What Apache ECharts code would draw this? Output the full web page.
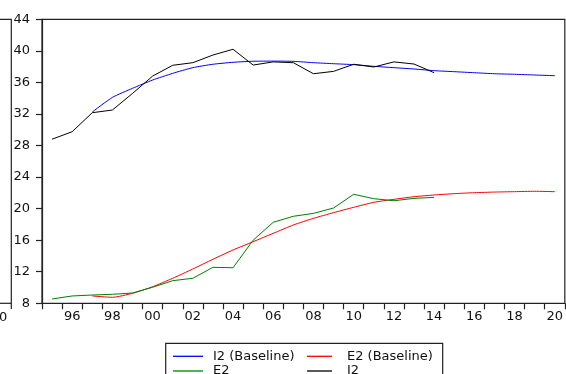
<!DOCTYPE html>
<html>
<head>
<meta charset="utf-8">
<script src="https://cdn.jsdelivr.net/npm/echarts@6/dist/echarts.min.js"></script>
<style>
html,body{margin:0;padding:0;background:#fff;}
#chart{width:566px;height:374px;}
</style>
</head>
<body>
<div id="chart"></div>
<script>
const years = ['1995','1996','1997','1998','1999','2000','2001','2002','2003','2004','2005','2006','2007','2008','2009','2010','2011','2012','2013','2014','2015','2016','2017','2018','2019','2020'];
const i2 = [28.8, 29.75, 32.16, 32.5, 34.6, 36.8, 38.17, 38.5, 39.47, 40.2, 38.2, 38.6, 38.5, 37.1, 37.4, 38.3, 37.95, 38.6, 38.33, 37.23, null, null, null, null, null, null];
const i2Base = [null, null, 32.25, 34.1, 35.25, 36.3, 37.15, 37.87, 38.3, 38.55, 38.68, 38.7, 38.67, 38.5, 38.37, 38.25, 38.04, 37.87, 37.7, 37.49, 37.36, 37.23, 37.1, 37.03, 36.94, 36.85];
const e2 = [8.55, 8.93, 9.05, 9.14, 9.3, 10.03, 10.87, 11.17, 12.56, 12.51, 16.0, 18.27, 19.03, 19.4, 20.08, 21.82, 21.26, 21.0, 21.3, 21.43, null, null, null, null, null, null];
const e2Base = [null, null, 8.93, 8.76, 9.27, 10.1, 11.17, 12.35, 13.58, 14.76, 15.81, 16.87, 17.93, 18.77, 19.49, 20.17, 20.8, 21.18, 21.51, 21.73, 21.9, 22.02, 22.1, 22.15, 22.2, 22.15];
const yTicks = {min: 8, max: 44, interval: 4};

const FONT = 'DejaVu Sans';
const AX = '#222';
const chart = echarts.init(document.getElementById('chart'), null, {renderer: 'canvas'});
function leg(name, left, top, w, pad) {
  return {
    data: [name], orient: 'horizontal', left: left, top: top,
    icon: 'rect', itemWidth: w, itemHeight: 1.3, itemGap: 0, padding: 0,
    textStyle: {fontFamily: FONT, fontSize: 13, color: '#111', lineHeight: 9, padding: [0, 0, 0, pad]}
  };
}
chart.setOption({
  animation: false,
  backgroundColor: '#fff',
  grid: {left: 42, top: 19.3, right: -1, bottom: 70.7, show: true, borderColor: AX, borderWidth: 1.2, backgroundColor: 'transparent'},
  xAxis: {
    type: 'category', data: years, boundaryGap: true,
    axisLine: {lineStyle: {color: AX, width: 1.2}},
    axisTick: {show: true, interval: 0, length: 6, inside: false, lineStyle: {color: AX, width: 1.2}},
    axisLabel: {
      interval: function (idx, val) { return (+val) % 2 === 0; },
      formatter: function (v) { return v.slice(2); },
      fontFamily: FONT, fontSize: 13, color: '#111', margin: 7
    },
    splitLine: {show: false}
  },
  yAxis: {
    type: 'value', min: yTicks.min, max: yTicks.max, interval: yTicks.interval,
    axisLine: {show: true, lineStyle: {color: AX, width: 1.2}},
    axisTick: {show: true, length: 6, lineStyle: {color: AX, width: 1.2}},
    axisLabel: {fontFamily: FONT, fontSize: 13, color: '#111', margin: 12},
    splitLine: {show: false}
  },
  legend: [
    leg('I2 (Baseline)', 173, 349.8, 30, 5),
    leg('E2', 173, 364.5, 30, 5),
    leg('E2 (Baseline)', 307, 349.8, 25, 10),
    leg('I2', 307, 364.5, 25, 10)
  ],
  graphic: [
    {type: 'rect', shape: {x: 165.7, y: 343.3, width: 277, height: 60}, style: {fill: 'none', stroke: AX, lineWidth: 1.2}, silent: true, z: -1},
    {type: 'polyline', shape: {points: [[0, 19.3], [11.3, 19.3], [11.3, 309]]}, style: {fill: 'none', stroke: AX, lineWidth: 1.2}, silent: true},
    {type: 'line', shape: {x1: 0, y1: 303.3, x2: 11.3, y2: 303.3}, style: {stroke: AX, lineWidth: 1.2}, silent: true},
    {type: 'text', x: -1, y: 311, style: {text: '20', fontFamily: FONT, fontSize: 13, fill: '#111', align: 'center'}, silent: true}
  ],
  series: [
    {name: 'I2 (Baseline)', type: 'line', data: i2Base, symbol: 'none', smooth: 0.2, lineStyle: {color: '#0000ff', width: 1}, itemStyle: {color: '#0000ff'}, z: 2},
    {name: 'E2 (Baseline)', type: 'line', data: e2Base, symbol: 'none', smooth: 0.2, lineStyle: {color: '#ff0000', width: 1}, itemStyle: {color: '#ff0000'}, z: 2},
    {name: 'E2', type: 'line', data: e2, symbol: 'none', lineStyle: {color: '#008000', width: 1}, itemStyle: {color: '#008000'}, z: 3},
    {name: 'I2', type: 'line', data: i2, symbol: 'none', lineStyle: {color: '#000000', width: 1}, itemStyle: {color: '#000000'}, z: 3}
  ]
});
</script>
</body>
</html>
